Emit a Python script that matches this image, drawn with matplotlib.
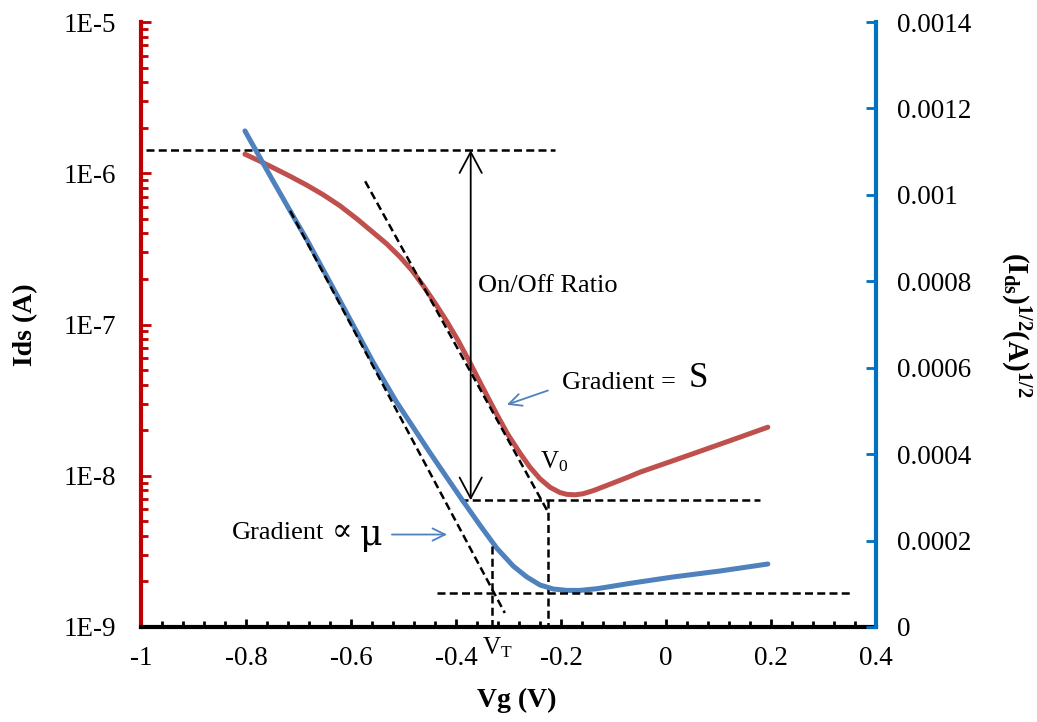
import numpy as np
import matplotlib
matplotlib.use('Agg')
import matplotlib.pyplot as plt
from matplotlib.ticker import MultipleLocator, LogLocator, FuncFormatter, NullFormatter

plt.rcParams['font.family'] = ['Liberation Serif', 'DejaVu Serif']
plt.rcParams['mathtext.fontset'] = 'custom'
plt.rcParams['mathtext.rm'] = 'Liberation Serif'
plt.rcParams['mathtext.bf'] = 'Liberation Serif:bold'
plt.rcParams['mathtext.it'] = 'Liberation Serif:italic'

# Ids on log axis (left) as log10 values
vg_red = [-0.802, -0.773, -0.745, -0.716, -0.684, -0.653, -0.621, -0.589, -0.558, -0.532,
          -0.507, -0.484, -0.462, -0.440, -0.418, -0.396, -0.373, -0.348, -0.322, -0.301,
          -0.278, -0.259, -0.240, -0.221, -0.202, -0.189, -0.173, -0.158, -0.139, -0.112,
          -0.075, -0.050, -0.002, 0.046, 0.122, 0.194]
log_ids = [-5.874, -5.921, -5.969, -6.020, -6.079, -6.142, -6.215, -6.301, -6.391, -6.467,
           -6.552, -6.642, -6.746, -6.858, -6.977, -7.106, -7.255, -7.424, -7.596, -7.728,
           -7.851, -7.944, -8.020, -8.076, -8.111, -8.123, -8.126, -8.119, -8.099, -8.063,
           -8.013, -7.977, -7.919, -7.861, -7.768, -7.679]

# sqrt(Ids) on linear axis (right)
vg_blue = [-0.802, -0.754, -0.716, -0.684, -0.621, -0.558, -0.545, -0.514, -0.482, -0.450,
           -0.418, -0.387, -0.354, -0.322, -0.291, -0.265, -0.240, -0.215, -0.189, -0.164,
           -0.131, -0.069, 0.013, 0.103, 0.194]
sqrt_ids = [1.148e-3, 1.044e-3, 9.63e-4, 8.96e-4, 7.55e-4, 6.13e-4, 5.86e-4, 5.22e-4, 4.63e-4, 4.04e-4,
            3.47e-4, 2.92e-4, 2.35e-4, 1.82e-4, 1.41e-4, 1.157e-4, 9.72e-5, 8.80e-5, 8.47e-5, 8.47e-5,
            8.87e-5, 1.009e-4, 1.157e-4, 1.296e-4, 1.458e-4]

# guide lines
on_level = 1.42e-6
on_x = [-0.99, -0.211]
off_level = 6.89e-9
off_x = [-0.392, 0.179]
arrow_x = -0.372
s_tan_x = [-0.573, -0.225]
s_tan_y = [8.85e-7, 5.78e-9]
v0 = -0.224
mu_tan_x = [-0.716, -0.307]
mu_tan_y = [9.63e-4, 3.24e-5]
low_level = 7.8e-5
low_x = [-0.436, 0.356]
vt = -0.332
vt_top = 1.88e-4

red_line = '#C0504D'
blue_line = '#4F81BD'
dash = dict(color='black', lw=1.8, dashes=(3.2, 1.7), zorder=4)

fig = plt.figure(figsize=(10.37, 7.22), dpi=100)
ax = fig.add_axes([141/1037, 1-627/722, 735/1037, 605/722])
ax2 = ax.twinx()

ax.plot(vg_red, 10**np.array(log_ids), color=red_line, lw=3.6, solid_capstyle='round',
        solid_joinstyle='round', zorder=3)
ax2.plot(vg_blue, sqrt_ids, color=blue_line, lw=3.6, solid_capstyle='round',
         solid_joinstyle='round', zorder=3)

ax.set_xlim(-1, 0.4)
ax.set_yscale('log')
ax.set_ylim(1e-9, 1e-5)
ax2.set_ylim(0, 0.0014)

# dashed construction lines
ax.plot(on_x, [on_level, on_level], **dash)
ax.plot(off_x, [off_level, off_level], **dash)
ax.plot(s_tan_x, s_tan_y, **dash)
ax.plot([v0, v0], [off_level, 1e-9], **dash)
ax2.plot(mu_tan_x, mu_tan_y, **dash)
ax2.plot(low_x, [low_level, low_level], **dash)
ax2.plot([vt, vt], [vt_top, 0], **dash)

# on/off arrow
ax.annotate('', xy=(arrow_x, on_level), xytext=(arrow_x, off_level),
            arrowprops=dict(arrowstyle='<->,head_length=0.75,head_width=0.4',
                            color='black', lw=1.3, mutation_scale=20, shrinkA=0, shrinkB=0))
ax.text(-0.358, 1.79e-7, 'On/Off Ratio', fontsize=19, ha='left', va='center')

ax.annotate('', xy=(-0.303, 2.95e-8), xytext=(-0.225, 3.66e-8),
            arrowprops=dict(arrowstyle='->,head_length=0.45,head_width=0.22',
                            color=blue_line, lw=1.3, mutation_scale=20, shrinkA=0, shrinkB=0))
ax.text(-0.198, 4.13e-8, 'Gradient =', fontsize=19, ha='left', va='center')
ax.text(0.044, 4.4e-8, 'S', fontsize=25, ha='left', va='center')

ax2.annotate('', xy=(-0.417, 2.14e-4), xytext=(-0.522, 2.14e-4),
             arrowprops=dict(arrowstyle='->,head_length=0.45,head_width=0.22',
                             color=blue_line, lw=1.3, mutation_scale=20, shrinkA=0, shrinkB=0))
ax2.text(-0.827, 2.18e-4, 'Gradient', fontsize=19, ha='left', va='center')
ax2.text(-0.636, 2.20e-4, '\u221d', fontsize=22, ha='left', va='center', family=['DejaVu Serif'])
ax2.text(-0.584, 2.12e-4, '\u03bc', fontsize=25, ha='left', va='center', family=['DejaVu Serif'])

ax.text(-0.240, 1.24e-8, r'V$_\mathrm{0}$', fontsize=18, ha='left', va='center')
ax.text(-0.350, 7.3e-10, r'V$_\mathrm{T}$', fontsize=18, ha='left', va='center')

# spines
for s in ['top', 'right']:
    ax.spines[s].set_visible(False)
for s in ['top', 'left', 'bottom']:
    ax2.spines[s].set_visible(False)
ax.spines['left'].set_color('#C00000')
ax.spines['left'].set_linewidth(3)
ax.spines['bottom'].set_color('black')
ax.spines['bottom'].set_linewidth(3)
ax2.spines['right'].set_color('#0070C0')
ax2.spines['right'].set_linewidth(3)

# ticks
ax.xaxis.set_major_locator(MultipleLocator(0.2))
ax.xaxis.set_minor_locator(MultipleLocator(0.04))
ax.xaxis.set_major_formatter(FuncFormatter(lambda v, _: '%g' % (round(v, 2) + 0.0)))
ax.tick_params(axis='x', which='major', direction='in', length=6, width=2, pad=14,
               labelsize=19.5, color='black')
ax.tick_params(axis='x', which='minor', direction='in', length=4, width=2, color='black')

ax.yaxis.set_major_locator(LogLocator(base=10))
ax.yaxis.set_minor_locator(LogLocator(base=10, subs=np.arange(2, 10)))
ax.yaxis.set_major_formatter(FuncFormatter(lambda v, _: '1E%d' % round(np.log10(v))))
ax.yaxis.set_minor_formatter(NullFormatter())
ax.tick_params(axis='y', which='major', direction='in', length=7, width=2, pad=18,
               labelsize=19.5, color='#C00000')
ax.tick_params(axis='y', which='minor', direction='in', length=5, width=2, color='#C00000')

ax2.yaxis.set_major_locator(MultipleLocator(0.0002))
ax2.yaxis.set_major_formatter(FuncFormatter(lambda v, _: '%g' % round(v, 6)))
ax2.tick_params(axis='y', which='major', direction='in', length=7, width=2, pad=15,
                labelsize=19.5, color='#0070C0')

# axis titles
fig.text(26/1037, 1-325/722, 'Ids (A)', rotation=90, fontsize=20, fontweight='bold',
         ha='center', va='center')
fig.text(1015/1037, 1-325/722, r'$\mathbf{(I_{ds})^{1/2}(A)^{1/2}}$', rotation=270,
         fontsize=21, ha='center', va='center')
fig.text(517/1037, 1-700/722, 'Vg (V)', fontsize=20, fontweight='bold', ha='center', va='center')

fig.savefig('out.png', dpi=100)
